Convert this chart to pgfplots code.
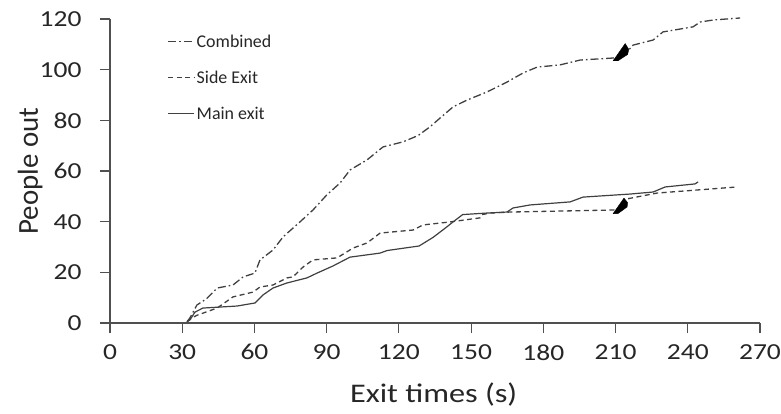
\documentclass[border=0pt]{standalone}
\usepackage{fontspec}
\setmainfont{Carlito}
\newfontfamily\widefont[FakeStretch=1.2]{Carlito}
\usepackage{pgfplots}
\pgfplotsset{compat=1.18}
\definecolor{ln}{HTML}{404040}
\definecolor{txt}{HTML}{262626}
\definecolor{ax}{HTML}{505050}
\begin{document}
\begin{tikzpicture}
\useasboundingbox (-110bp,-91bp) rectangle (671bp,323bp);
\begin{axis}[
  at={(0,0)}, anchor=south west,
  scale only axis, width=650bp, height=304bp,
  xmin=0, xmax=270, ymin=0, ymax=120,
  xtick={0,30,...,270}, ytick={0,20,...,120},
  axis x line=bottom, axis y line=left,
  axis line style={-, ax, line width=1.2bp},
  tick style={ax, line width=1.2bp},
  tick align=outside, major tick length=10bp,
  /pgf/number format/assume math mode=true,
  ticklabel style={font=\widefont\fontsize{23}{27}\selectfont, text=txt},
  xticklabel style={yshift=-8bp},
  yticklabel style={xshift=-15bp},
  xlabel={Exit times (s)}, ylabel={People out},
  xlabel style={font=\widefont\fontsize{27}{31}\selectfont, text=txt, at={(axis description cs:0.498,0)}, anchor=center, yshift=-72bp},
  ylabel style={font=\fontsize{29}{33}\selectfont, text=txt, at={(axis description cs:-0.123,0.5)}, anchor=center},
  legend style={at={(axis description cs:0.088,0.955)}, anchor=north west, draw=none, fill=none,
    font=\fontsize{18}{20}\selectfont, text=txt, row sep=18bp, inner sep=0pt,
    /tikz/every even column/.append style={column sep=2bp}},
  legend cell align=left,
  legend image code/.code={\draw[#1] (0bp,0bp) -- (26bp,0bp);},
  clip=false,
]
\addplot[ln, line width=1.3bp, dash pattern=on 8bp off 3bp on 1.6bp off 3bp] coordinates {
(32,0.5)(33.2,2)(36.1,7.1)(40,9.5)(44.5,13.8)(51.1,15.0)(55.3,18.2)(60.2,19.7)(62.3,24.9)(67.7,28.8)(71.9,34)(78.9,39.9)(84.3,44.6)(90,50.5)(95.6,55.3)(99.7,60.4)(106.8,64.4)(113.4,69.5)(121.7,71.5)(128,74)(133,77.5)(137.1,80.9)(142.5,85.3)(148.3,88)(156.6,91.2)(164.9,95.1)(171.6,98.7)(177.4,101)(187,101.9)(195.3,103.8)(209,104.6)(213,105.2)(217.3,109.7)(225.6,111.7)(229.7,114.9)(242.2,116.9)(245.1,118.8)(250.5,119.6)(261.7,120.4)
};
\addlegendentry{Combined}
\addplot[ln, line width=1.3bp, dash pattern=on 5bp off 3.5bp] coordinates {
(32,0.5)(33.2,1.5)(36,3)(44.5,5.9)(51.1,10.3)(59.4,12.2)(62.3,14.2)(67.7,15)(73.5,17.8)(76,18.2)(80.2,22.1)(84.3,24.9)(94.3,25.7)(101,29.6)(106.8,31.6)(112.2,35.5)(125.9,36.7)(130,38.7)(141.3,39.9)(153.7,41.5)(154.5,42.8)(157.9,43.4)(166.2,43.8)(209,44.6)(213,45)(214.8,49)(227.3,51.3)(243.9,52.5)(260.5,53.7)
};
\addlegendentry{Side Exit}
\addplot[ln, line width=1.2bp] coordinates {
(32,0.5)(33.2,1.2)(35.3,4.3)(38.6,5.9)(45.7,6.3)(52.8,6.7)(60.2,7.9)(63.6,11.1)(67.7,13.8)(73.5,15.8)(81.8,17.8)(86,19.7)(92.6,22.5)(99.7,26)(112.2,27.6)(115.1,28.6)(128.4,30.4)(134.2,33.8)(139.6,37.7)(142.5,39.9)(146.5,42.8)(156.6,43.4)(164.9,43.8)(167.4,45.4)(174.5,46.6)(191.1,47.8)(196.5,49.7)(216,50.9)(225.6,51.7)(230.6,53.7)(243,54.9)(244.3,55.7)
};
\addlegendentry{Main exit}
\addplot[black, fill=black, forget plot] coordinates {(209,43.2)(213.5,49.3)(215,47.5)(214.8,45.8)(211,43.2)} -- cycle;
\addplot[black, fill=black, forget plot] coordinates {(209,103.5)(214,110.3)(215.5,108)(215,106)(211,103.5)} -- cycle;
\end{axis}
\end{tikzpicture}
\end{document}
